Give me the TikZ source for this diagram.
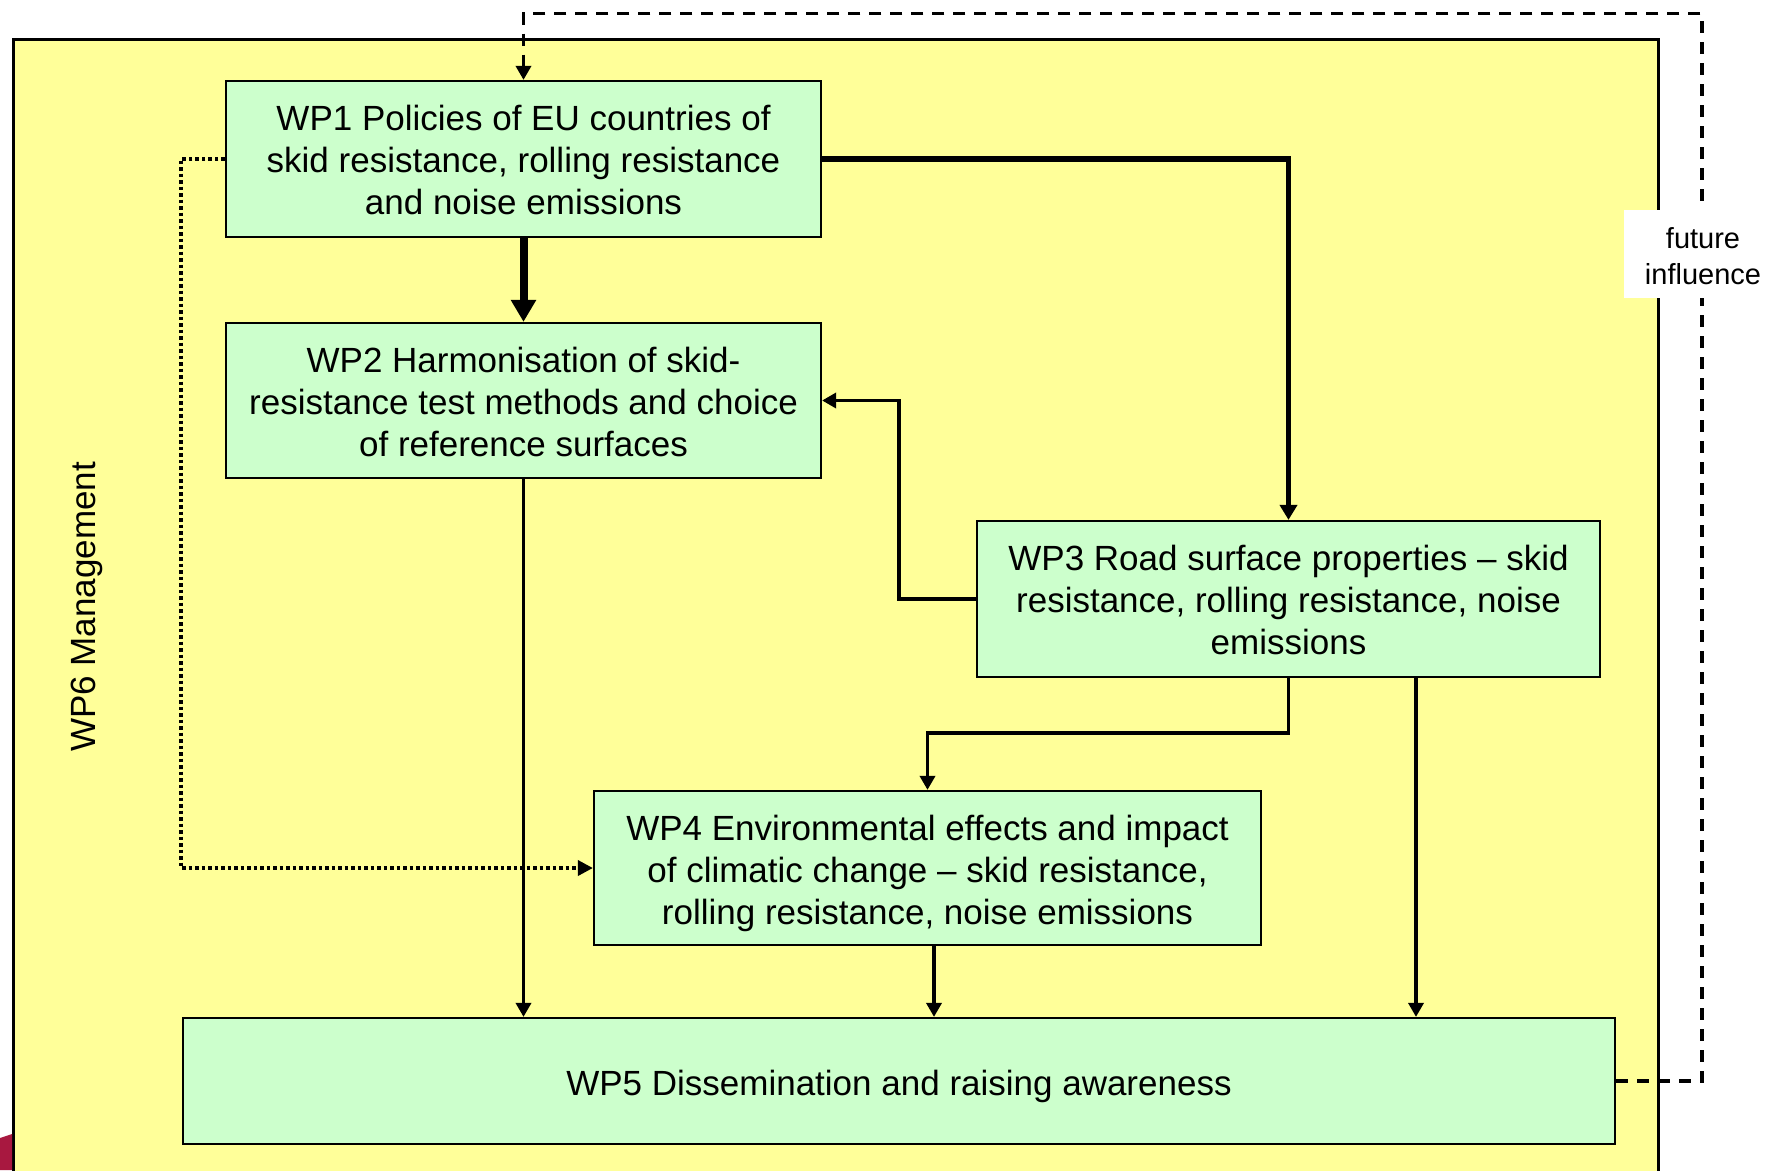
\documentclass[tikz,border=0pt]{standalone}
\usepackage{fontspec}
\setmainfont{Liberation Sans}
\usetikzlibrary{arrows.meta}
\definecolor{bgyellow}{RGB}{255,255,153}
\definecolor{wpgreen}{RGB}{204,255,204}
\definecolor{crimson}{RGB}{168,24,64}
\begin{document}
\begin{tikzpicture}[x=1pt,y=-1pt,
  wp/.style={draw=black, line width=2.2pt, fill=wpgreen, inner sep=0pt},
  wptext/.style={align=center, font=\fontsize{35}{42}\selectfont, inner sep=0pt},
  conn/.style={line width=3.4pt, -{Triangle[length=14pt,width=15pt]}},
  thickconn/.style={line width=8pt, -{Triangle[length=22pt,width=24pt]}},
  dotconn/.style={line width=3.5pt, dash pattern=on 3.5pt off 3pt, -{Triangle[length=15pt,width=15pt]}},
  dashconn/.style={line width=3.4pt, dash pattern=on 12pt off 9pt, -{Triangle[length=14pt,width=15pt]}},
  lbl/.style={align=center, inner sep=0pt}]
\useasboundingbox (0,0) rectangle (1771,1170);
% background yellow frame
\fill[bgyellow] (13.5,39.5) rectangle (1658,1172);
\draw[line width=3pt] (13.5,1172) -- (13.5,39.5) -- (1658,39.5) -- (1658,1172);
% crimson shape at bottom left
\fill[crimson] (0,1138) -- (12,1134) -- (12,1170) -- (0,1170) -- cycle;
% label WP6
\node[lbl, rotate=90, font=\fontsize{35}{42}\selectfont] (wp6) at (87,607) {WP6 Management};
% work packages (boxes)
\node[wp, minimum width=595pt, minimum height=156pt] (wp1) at (523.5,159) {};
\node[wp, minimum width=595pt, minimum height=155pt] (wp2) at (523.5,400.5) {};
\node[wp, minimum width=623pt, minimum height=156pt] (wp3) at (1288.5,599) {};
\node[wp, minimum width=667pt, minimum height=154pt] (wp4) at (927.5,868) {};
\node[wp, minimum width=1432pt, minimum height=126pt] (wp5) at (899,1081) {};
% work package texts
\node[wptext] (wp1t) at ([yshift=-1pt]wp1.center)
  {WP1 Policies of EU countries of\\skid resistance, rolling resistance\\and noise emissions};
\node[wptext] (wp2t) at ([yshift=-1pt]wp2.center)
  {WP2 Harmonisation of skid-\\resistance test methods and choice\\of reference surfaces};
\node[wptext] (wp3t) at ([yshift=-1pt]wp3.center)
  {WP3 Road surface properties – skid\\resistance, rolling resistance, noise\\emissions};
\node[wptext] (wp4t) at ([yshift=-5pt]wp4.center)
  {WP4 Environmental effects and impact\\of climatic change – skid resistance,\\rolling resistance, noise emissions};
\node[wptext] (wp5t) at ([yshift=-5pt]wp5.center)
  {WP5 Dissemination and raising awareness};
% routing coordinates
\coordinate (dotc) at (181,500);
\coordinate (c32) at (899,500);
\coordinate (c34) at (1100,733);
\coordinate (x35) at (1416,0);
\coordinate (x45) at (934,0);
\coordinate (d1) at (1702,13.5);
% connectors
\draw[thickconn] (wp1.south) -- (wp2.north);
\draw[line width=5.5pt, -{Triangle[length=15pt,width=17pt]}] (wp1.east) -| (wp3.north);
\draw[conn] (wp3.west) -| (c32) |- (wp2.east);
\draw[conn] (wp3.south) |- (c34) -| (wp4.north);
\draw[conn] (wp3.south -| x35) -- (wp5.north -| x35);
\draw[conn] (wp2.south) -- (wp2.south |- wp5.north);
\draw[conn] (wp4.south -| x45) -- (wp5.north -| x45);
\draw[dotconn] (wp1.west) -| (dotc) |- (wp4.west);
\draw[dashconn] (wp5.east) -| (d1) -| (wp1.north);
% future influence label
\fill[white] (1624,210) rectangle (1771,298);
\node[lbl, font=\fontsize{29}{36}\selectfont] (fi) at (1703,256) {future\\influence};
\end{tikzpicture}
\end{document}
